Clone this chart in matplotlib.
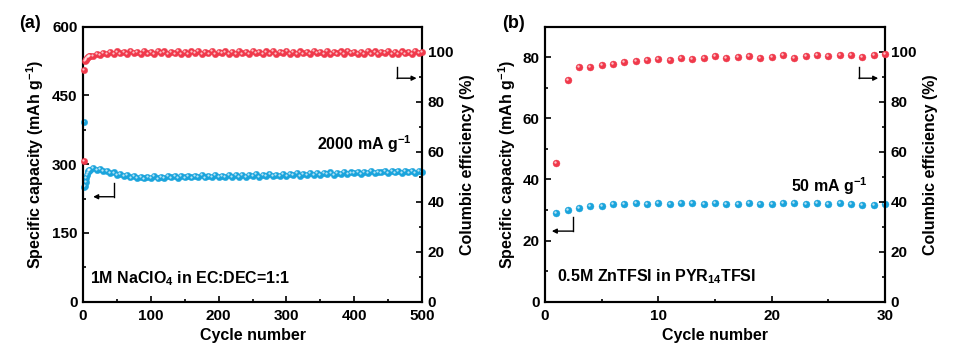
import matplotlib
matplotlib.use("Agg")
import matplotlib.pyplot as plt
from matplotlib.transforms import offset_copy
from matplotlib.ticker import MultipleLocator

plt.rcParams['font.family'] = ['Liberation Sans', 'DejaVu Sans']
plt.rcParams['font.weight'] = 'bold'
plt.rcParams['mathtext.fontset'] = 'custom'
plt.rcParams['mathtext.rm'] = 'Liberation Sans:bold'
plt.rcParams['mathtext.bf'] = 'Liberation Sans:bold'
plt.rcParams['mathtext.it'] = 'Liberation Sans:bold'
plt.rcParams['mathtext.default'] = 'bf'

RED = '#F0394B'
BLUE = '#1AA4DC'

# ---------------- Panel (a) data ----------------
cycles_a = [1, 2, 3, 4, 5, 6, 7, 8, 9, 10] + list(range(15, 501, 5))
capacity_a = [393, 250, 252, 262, 270, 277, 282, 285, 287, 288,
              291, 288, 290, 285, 286, 281, 282, 277, 279, 274,
              276, 271, 274, 270, 273, 269, 273, 270, 274, 269,
              273, 270, 274, 271, 275, 270, 274, 271, 275, 271,
              274, 272, 276, 271, 275, 272, 276, 272, 275, 273,
              277, 272, 276, 273, 277, 273, 276, 274, 278, 273,
              277, 274, 278, 274, 277, 275, 279, 274, 278, 276,
              280, 275, 279, 276, 280, 277, 281, 276, 280, 278,
              282, 277, 281, 279, 283, 278, 282, 280, 284, 279,
              283, 281, 285, 280, 284, 282, 286, 281, 285, 282,
              286, 281, 285, 282, 286, 281, 285, 283]
efficiency_a = [56.4, 92.7, 96.3, 96.8, 97.2, 97.5, 97.8, 98.0, 98.2, 98.4,
                98.4, 99.2, 98.8, 99.6, 99.0, 99.9, 99.2, 100.1, 99.3, 100.0,
                99.1, 100.2, 99.4, 99.9, 99.0, 100.3, 99.3, 100.0, 99.1, 100.2,
                99.4, 100.1, 99.0, 99.8, 99.3, 100.3, 99.2, 99.9, 99.0, 100.1,
                99.4, 100.2, 99.1, 99.9, 99.3, 100.3, 99.0, 100.0, 99.4, 100.1,
                99.2, 99.8, 99.0, 100.2, 99.3, 100.0, 99.1, 100.3, 99.4, 99.9,
                99.0, 100.1, 99.3, 100.2, 99.1, 99.8, 99.4, 100.3, 99.2, 100.0,
                99.0, 100.1, 99.3, 99.9, 99.1, 100.2, 99.4, 100.0, 99.2, 100.3,
                99.0, 99.9, 99.3, 100.1, 99.1, 100.2, 99.4, 99.8, 99.2, 100.0,
                99.0, 100.3, 99.3, 100.1, 99.1, 99.9, 99.4, 100.2, 99.2, 100.0,
                99.0, 100.1, 99.3, 99.9, 99.1, 100.2, 99.4, 100.0]

# ---------------- Panel (b) data ----------------
cycles_b = list(range(1, 31))
capacity_b = [29.1, 30.0, 30.6, 31.4, 31.4, 32.1, 32.0, 32.2, 32.1, 32.3,
              32.1, 32.2, 32.2, 32.1, 32.2, 32.1, 32.0, 32.2, 32.1, 32.0,
              32.2, 32.2, 32.1, 32.2, 32.1, 32.2, 32.1, 31.7, 31.7, 31.9]
efficiency_b = [55.6, 88.8, 93.7, 93.7, 94.8, 94.9, 96.0, 96.1, 96.7, 97.1,
                96.7, 97.6, 97.2, 97.5, 98.2, 97.3, 97.7, 98.4, 97.3, 98.0,
                98.7, 97.3, 98.4, 98.7, 98.2, 98.7, 98.7, 98.0, 98.8, 98.9]

fig = plt.figure(figsize=(9.55, 3.63), dpi=100)


def balls(ax, x, y, color, ms):
    ax.plot(x, y, 'o', ms=ms, color=color, mec=color, mew=0.3, zorder=3, clip_on=False)
    tr = offset_copy(ax.transData, fig=fig, x=-ms * 0.14, y=ms * 0.14, units='points')
    ax.plot(x, y, 'o', ms=ms * 0.35, color='white', mew=0, alpha=0.7,
            transform=tr, zorder=4, clip_on=False)


def style(ax, fs=11):
    ax.tick_params(which='both', direction='in', labelsize=fs, width=1.2)
    ax.tick_params(which='major', length=4)
    ax.tick_params(which='minor', length=2)
    ax.tick_params(axis='x', pad=5)
    ax.tick_params(axis='y', pad=4)
    for s in ax.spines.values():
        s.set_linewidth(1.5)
    for lab in ax.get_xticklabels() + ax.get_yticklabels():
        lab.set_fontweight('bold')


def bent_arrow(ax, x0, y0, y1, x2):
    ax.plot([x0, x0], [y0, y1], color='k', lw=1.0, zorder=5)
    ax.annotate('', xy=(x2, y1), xytext=(x0, y1),
                arrowprops=dict(arrowstyle='-|>', lw=1.0, color='k',
                                mutation_scale=7, shrinkA=0, shrinkB=0))


# ---------------- Panel (a) ----------------
axa = fig.add_axes([0.0869, 0.1689, 0.355, 0.7575])
axa2 = axa.twinx()
balls(axa, cycles_a, capacity_a, BLUE, 4.6)
balls(axa2, cycles_a, efficiency_a, RED, 4.6)
axa.set_xlim(0, 500)
axa.set_ylim(0, 600)
axa2.set_ylim(0, 110)
axa.xaxis.set_major_locator(MultipleLocator(100))
axa.xaxis.set_minor_locator(MultipleLocator(50))
axa.yaxis.set_major_locator(MultipleLocator(150))
axa.yaxis.set_minor_locator(MultipleLocator(75))
axa2.yaxis.set_major_locator(MultipleLocator(20))
axa2.yaxis.set_minor_locator(MultipleLocator(10))
style(axa)
style(axa2)
axa.set_xlabel('Cycle number', fontsize=11.5, fontweight='bold', labelpad=4)
axa.set_ylabel('Specific capacity (mAh g$^{-1}$)', fontsize=11.5, fontweight='bold', labelpad=4)
axa2.set_ylabel('Columbic efficiency (%)', fontsize=11.5, fontweight='bold', labelpad=5)
axa.text(-0.155, 1.01, '(a)', transform=axa.transAxes, fontsize=13, fontweight='bold',
         ha='center', va='center')
axa.text(0.97, 0.572, '2000 mA g$^{-1}$', transform=axa.transAxes, fontsize=11.5,
         fontweight='bold', ha='right', va='center')
axa.text(0.02, 0.085, '1M NaClO$_4$ in EC:DEC=1:1', transform=axa.transAxes, fontsize=11.5,
         fontweight='bold', ha='left', va='center')
bent_arrow(axa, 45, 259, 229, 15)
bent_arrow(axa2, 463, 94, 89.4, 492)

# ---------------- Panel (b) ----------------
axb = fig.add_axes([0.5707, 0.1689, 0.356, 0.7575])
axb2 = axb.twinx()
balls(axb, cycles_b, capacity_b, BLUE, 5.0)
balls(axb2, cycles_b, efficiency_b, RED, 5.0)
axb.set_xlim(0, 30)
axb.set_ylim(0, 90)
axb2.set_ylim(0, 110)
axb.xaxis.set_major_locator(MultipleLocator(10))
axb.xaxis.set_minor_locator(MultipleLocator(5))
axb.yaxis.set_major_locator(MultipleLocator(20))
axb.yaxis.set_minor_locator(MultipleLocator(10))
axb2.yaxis.set_major_locator(MultipleLocator(20))
axb2.yaxis.set_minor_locator(MultipleLocator(10))
style(axb)
style(axb2)
axb.set_xlabel('Cycle number', fontsize=11.5, fontweight='bold', labelpad=4)
axb.set_ylabel('Specific capacity (mAh g$^{-1}$)', fontsize=11.5, fontweight='bold', labelpad=3)
axb2.set_ylabel('Columbic efficiency (%)', fontsize=11.5, fontweight='bold', labelpad=5)
axb.text(-0.093, 1.01, '(b)', transform=axb.transAxes, fontsize=13, fontweight='bold',
         ha='center', va='center')
axb.text(0.95, 0.42, '50 mA g$^{-1}$', transform=axb.transAxes, fontsize=11.5,
         fontweight='bold', ha='right', va='center')
axb.text(0.035, 0.09, '0.5M ZnTFSI in PYR$_{14}$TFSI', transform=axb.transAxes, fontsize=11.5,
         fontweight='bold', ha='left', va='center')
bent_arrow(axb, 2.5, 27.8, 23.1, 0.6)
bent_arrow(axb2, 27.7, 94, 89.4, 29.4)

fig.savefig('out.png', dpi=100)
